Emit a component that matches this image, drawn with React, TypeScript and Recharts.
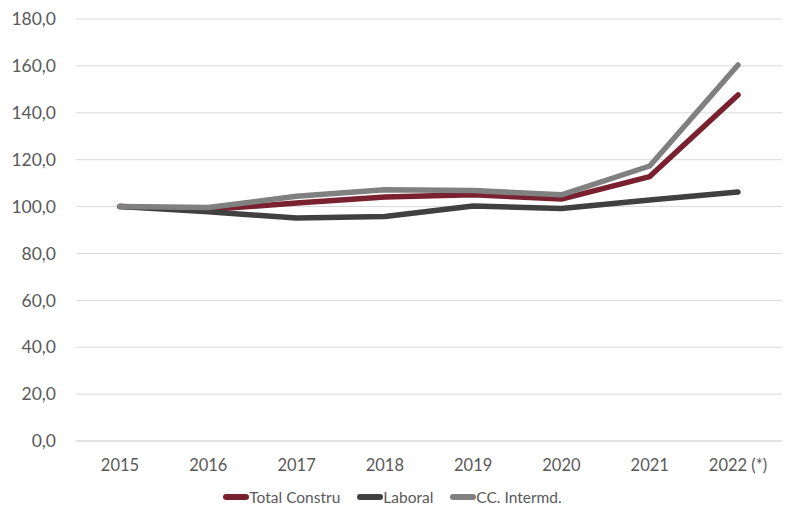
import { LineChart, Line, XAxis, YAxis, CartesianGrid, Legend } from "recharts";

const years = ["2015", "2016", "2017", "2018", "2019", "2020", "2021", "2022 (*)"];
const totalConstru = [100, 98.7, 101.5, 104.1, 105.0, 103.2, 112.8, 147.6];
const laboral = [100, 97.8, 95.1, 95.8, 100.2, 99.2, 102.8, 106.2];
const ccIntermd = [100, 99.6, 104.4, 107.2, 106.8, 105.0, 117.3, 160.4];
const yTicks = [0, 20, 40, 60, 80, 100, 120, 140, 160, 180];

const series = [
  { key: "total", name: "Total Constru", color: "#7a2130" },
  { key: "laboral", name: "Laboral", color: "#404040" },
  { key: "cc", name: "CC. Intermd.", color: "#808080" },
];

const data = years.map((year, i) => ({
  year,
  total: totalConstru[i],
  laboral: laboral[i],
  cc: ccIntermd[i],
}));

const FONT = "Lato, 'Open Sans', sans-serif";
const TEXT = "#595959";

function LegendLines() {
  return (
    <div style={{ display: "flex", justifyContent: "center", gap: 17, fontFamily: FONT, fontSize: 15.5, color: TEXT, lineHeight: "18px" }}>
      {series.map((s) => (
        <div key={s.key} style={{ display: "flex", alignItems: "center" }}>
          <svg width={26} height={8}>
            <line x1={3} y1={4} x2={23} y2={4} stroke={s.color} strokeWidth={6} strokeLinecap="round" />
          </svg>
          <span>{s.name}</span>
        </div>
      ))}
    </div>
  );
}

export default function App() {
  return (
    <div style={{ position: "absolute", left: 0, top: 0, background: "#fff" }}>
      <LineChart width={785} height={518} data={data} margin={{ top: 19, right: 3, left: 0, bottom: 0 }}>
        <CartesianGrid vertical={false} stroke="#d9d9d9" strokeWidth={1} />
        <XAxis
          dataKey="year"
          axisLine={{ stroke: "#d9d9d9" }}
          tickLine={false}
          tickMargin={12}
          height={59}
          padding={{ left: 44, right: 44 }}
          tick={{ fill: TEXT, fontSize: 16.5, fontFamily: FONT }}
        />
        <YAxis
          domain={[0, 180]}
          ticks={yTicks}
          width={76}
          axisLine={false}
          tickLine={false}
          tickMargin={14}
          tickFormatter={(v: number) => v.toFixed(1).replace(".", ",")}
          tick={{ fill: TEXT, fontSize: 17.5, fontFamily: FONT }}
        />
        <Legend content={<LegendLines />} wrapperStyle={{ top: 488, left: 0, width: 785 }} />
        {series.map((s) => (
          <Line
            key={s.key}
            type="linear"
            dataKey={s.key}
            name={s.name}
            stroke={s.color}
            strokeWidth={5.5}
            strokeLinecap="round"
            strokeLinejoin="round"
            dot={false}
            isAnimationActive={false}
          />
        ))}
      </LineChart>
    </div>
  );
}
